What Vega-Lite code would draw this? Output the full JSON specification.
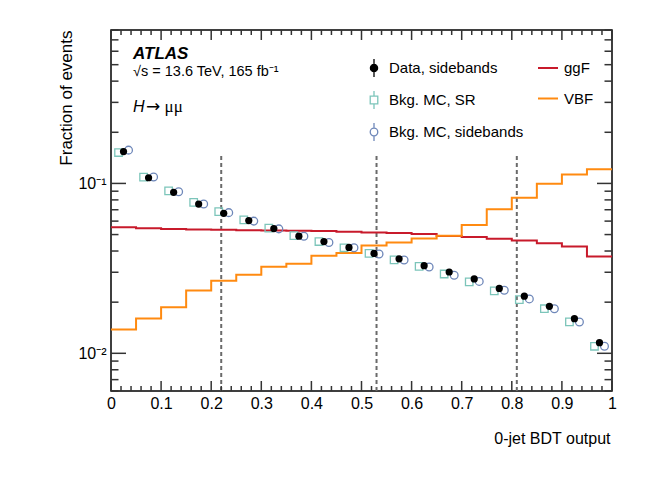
{
  "$schema": "https://vega.github.io/schema/vega-lite/v6.json",
  "width": 501,
  "height": 361,
  "autosize": {"type": "none"},
  "padding": {"left": 111, "top": 30, "right": 52, "bottom": 93},
  "background": "white",
  "config": {
    "font": "Liberation Sans",
    "view": {"stroke": "black", "strokeWidth": 1.5},
    "axis": {
      "grid": false,
      "labelFont": "Liberation Sans",
      "labelFontSize": 16,
      "labelColor": "black",
      "labelFlush": false,
      "titleFont": "Liberation Sans",
      "titleFontSize": 16,
      "titleFontWeight": "normal",
      "titleColor": "black"
    }
  },
  "datasets": {
    "cuts": [{"cut": 0.22}, {"cut": 0.53}, {"cut": 0.81}],
    "xmajor": [{"v": 0}, {"v": 0.1}, {"v": 0.2}, {"v": 0.3}, {"v": 0.4}, {"v": 0.5}, {"v": 0.6}, {"v": 0.7}, {"v": 0.8}, {"v": 0.9}, {"v": 1}],
    "xminor": [{"v": 0.02}, {"v": 0.04}, {"v": 0.06}, {"v": 0.08}, {"v": 0.12}, {"v": 0.14}, {"v": 0.16}, {"v": 0.18}, {"v": 0.22}, {"v": 0.24}, {"v": 0.26}, {"v": 0.28}, {"v": 0.32}, {"v": 0.34}, {"v": 0.36}, {"v": 0.38}, {"v": 0.42}, {"v": 0.44}, {"v": 0.46}, {"v": 0.48}, {"v": 0.52}, {"v": 0.54}, {"v": 0.56}, {"v": 0.58}, {"v": 0.62}, {"v": 0.64}, {"v": 0.66}, {"v": 0.68}, {"v": 0.72}, {"v": 0.74}, {"v": 0.76}, {"v": 0.78}, {"v": 0.82}, {"v": 0.84}, {"v": 0.86}, {"v": 0.88}, {"v": 0.92}, {"v": 0.94}, {"v": 0.96}, {"v": 0.98}],
    "ymajor": [{"v": 0.01}, {"v": 0.1}],
    "yminor": [{"v": 0.006}, {"v": 0.007}, {"v": 0.008}, {"v": 0.009}, {"v": 0.02}, {"v": 0.03}, {"v": 0.04}, {"v": 0.05}, {"v": 0.06}, {"v": 0.07}, {"v": 0.08}, {"v": 0.09}, {"v": 0.2}, {"v": 0.3}, {"v": 0.4}, {"v": 0.5}, {"v": 0.6}, {"v": 0.7}, {"v": 0.8}],
    "hist": [
      {"lo": 0.00, "hi": 0.05, "ggF": 0.0552, "VBF": 0.01382},
      {"lo": 0.05, "hi": 0.10, "ggF": 0.0545, "VBF": 0.01603},
      {"lo": 0.10, "hi": 0.15, "ggF": 0.0540, "VBF": 0.01866},
      {"lo": 0.15, "hi": 0.20, "ggF": 0.0535, "VBF": 0.02339},
      {"lo": 0.20, "hi": 0.25, "ggF": 0.0533, "VBF": 0.02677},
      {"lo": 0.25, "hi": 0.30, "ggF": 0.0531, "VBF": 0.02903},
      {"lo": 0.30, "hi": 0.35, "ggF": 0.0529, "VBF": 0.03234},
      {"lo": 0.35, "hi": 0.40, "ggF": 0.0527, "VBF": 0.03367},
      {"lo": 0.40, "hi": 0.45, "ggF": 0.0524, "VBF": 0.03751},
      {"lo": 0.45, "hi": 0.50, "ggF": 0.0519, "VBF": 0.03890},
      {"lo": 0.50, "hi": 0.55, "ggF": 0.0514, "VBF": 0.04310},
      {"lo": 0.55, "hi": 0.60, "ggF": 0.0510, "VBF": 0.04487},
      {"lo": 0.60, "hi": 0.65, "ggF": 0.0503, "VBF": 0.04736},
      {"lo": 0.65, "hi": 0.70, "ggF": 0.0491, "VBF": 0.04913},
      {"lo": 0.70, "hi": 0.75, "ggF": 0.0483, "VBF": 0.05697},
      {"lo": 0.75, "hi": 0.80, "ggF": 0.0472, "VBF": 0.07044},
      {"lo": 0.80, "hi": 0.85, "ggF": 0.0461, "VBF": 0.08233},
      {"lo": 0.85, "hi": 0.90, "ggF": 0.0445, "VBF": 0.09946},
      {"lo": 0.90, "hi": 0.95, "ggF": 0.0425, "VBF": 0.1129},
      {"lo": 0.95, "hi": 1.00, "ggF": 0.0372, "VBF": 0.1213}
    ],
    "points": [
      {"center": 0.025, "series": "Bkg. MC, SR", "frac": 0.152},
      {"center": 0.075, "series": "Bkg. MC, SR", "frac": 0.109},
      {"center": 0.125, "series": "Bkg. MC, SR", "frac": 0.0905},
      {"center": 0.175, "series": "Bkg. MC, SR", "frac": 0.0774},
      {"center": 0.225, "series": "Bkg. MC, SR", "frac": 0.0682},
      {"center": 0.275, "series": "Bkg. MC, SR", "frac": 0.0610},
      {"center": 0.325, "series": "Bkg. MC, SR", "frac": 0.0545},
      {"center": 0.375, "series": "Bkg. MC, SR", "frac": 0.0493},
      {"center": 0.425, "series": "Bkg. MC, SR", "frac": 0.0455},
      {"center": 0.475, "series": "Bkg. MC, SR", "frac": 0.0418},
      {"center": 0.525, "series": "Bkg. MC, SR", "frac": 0.0387},
      {"center": 0.575, "series": "Bkg. MC, SR", "frac": 0.0355},
      {"center": 0.625, "series": "Bkg. MC, SR", "frac": 0.0325},
      {"center": 0.675, "series": "Bkg. MC, SR", "frac": 0.0293},
      {"center": 0.725, "series": "Bkg. MC, SR", "frac": 0.0263},
      {"center": 0.775, "series": "Bkg. MC, SR", "frac": 0.0233},
      {"center": 0.825, "series": "Bkg. MC, SR", "frac": 0.0207},
      {"center": 0.875, "series": "Bkg. MC, SR", "frac": 0.0183},
      {"center": 0.925, "series": "Bkg. MC, SR", "frac": 0.0153},
      {"center": 0.975, "series": "Bkg. MC, SR", "frac": 0.0110},
      {"center": 0.025, "series": "Bkg. MC, sidebands", "frac": 0.157},
      {"center": 0.075, "series": "Bkg. MC, sidebands", "frac": 0.109},
      {"center": 0.125, "series": "Bkg. MC, sidebands", "frac": 0.0893},
      {"center": 0.175, "series": "Bkg. MC, sidebands", "frac": 0.0756},
      {"center": 0.225, "series": "Bkg. MC, sidebands", "frac": 0.0673},
      {"center": 0.275, "series": "Bkg. MC, sidebands", "frac": 0.0600},
      {"center": 0.325, "series": "Bkg. MC, sidebands", "frac": 0.0540},
      {"center": 0.375, "series": "Bkg. MC, sidebands", "frac": 0.0489},
      {"center": 0.425, "series": "Bkg. MC, sidebands", "frac": 0.0449},
      {"center": 0.475, "series": "Bkg. MC, sidebands", "frac": 0.0418},
      {"center": 0.525, "series": "Bkg. MC, sidebands", "frac": 0.0384},
      {"center": 0.575, "series": "Bkg. MC, sidebands", "frac": 0.0354},
      {"center": 0.625, "series": "Bkg. MC, sidebands", "frac": 0.0322},
      {"center": 0.675, "series": "Bkg. MC, sidebands", "frac": 0.0288},
      {"center": 0.725, "series": "Bkg. MC, sidebands", "frac": 0.0265},
      {"center": 0.775, "series": "Bkg. MC, sidebands", "frac": 0.0235},
      {"center": 0.825, "series": "Bkg. MC, sidebands", "frac": 0.0209},
      {"center": 0.875, "series": "Bkg. MC, sidebands", "frac": 0.0183},
      {"center": 0.925, "series": "Bkg. MC, sidebands", "frac": 0.0153},
      {"center": 0.975, "series": "Bkg. MC, sidebands", "frac": 0.0110},
      {"center": 0.025, "series": "Data, sidebands", "frac": 0.154},
      {"center": 0.075, "series": "Data, sidebands", "frac": 0.108},
      {"center": 0.125, "series": "Data, sidebands", "frac": 0.0886},
      {"center": 0.175, "series": "Data, sidebands", "frac": 0.0756},
      {"center": 0.225, "series": "Data, sidebands", "frac": 0.0667},
      {"center": 0.275, "series": "Data, sidebands", "frac": 0.0604},
      {"center": 0.325, "series": "Data, sidebands", "frac": 0.0542},
      {"center": 0.375, "series": "Data, sidebands", "frac": 0.0489},
      {"center": 0.425, "series": "Data, sidebands", "frac": 0.0455},
      {"center": 0.475, "series": "Data, sidebands", "frac": 0.0420},
      {"center": 0.525, "series": "Data, sidebands", "frac": 0.0387},
      {"center": 0.575, "series": "Data, sidebands", "frac": 0.0360},
      {"center": 0.625, "series": "Data, sidebands", "frac": 0.0328},
      {"center": 0.675, "series": "Data, sidebands", "frac": 0.0301},
      {"center": 0.725, "series": "Data, sidebands", "frac": 0.0274},
      {"center": 0.775, "series": "Data, sidebands", "frac": 0.0241},
      {"center": 0.825, "series": "Data, sidebands", "frac": 0.0217},
      {"center": 0.875, "series": "Data, sidebands", "frac": 0.0189},
      {"center": 0.925, "series": "Data, sidebands", "frac": 0.0160},
      {"center": 0.975, "series": "Data, sidebands", "frac": 0.01155}
    ]
  },
  "layer": [
    {
      "data": {"name": "cuts"},
      "mark": {"type": "rule", "color": "#6a6a6a", "strokeWidth": 2, "strokeDash": [4, 3]},
      "encoding": {
        "x": {
          "field": "cut", "type": "quantitative",
          "scale": {"domain": [0, 1], "nice": false, "zero": false},
          "axis": {
            "orient": "bottom", "values": [0, 0.1, 0.2, 0.3, 0.4, 0.5, 0.6, 0.7, 0.8, 0.9, 1],
            "ticks": false, "domain": false, "labelPadding": 4, "format": "~g", "labelOverlap": false,
            "title": "0-jet BDT output", "titleX": 499, "titleY": 52,
            "titleAlign": "right", "titleBaseline": "alphabetic"
          }
        },
        "y": {
          "datum": 0.006,
          "scale": {"type": "log", "domain": [0.006, 0.8], "nice": false},
          "axis": {
            "orient": "left", "values": [0.01, 0.1],
            "ticks": false, "domain": false, "labelPadding": 5, "labelOverlap": false,
            "labelExpr": "datum.value < 0.05 ? '10⁻²' : '10⁻¹'",
            "title": "Fraction of events", "titleFontSize": 17, "titleX": -40, "titleY": 0,
            "titleAngle": 270, "titleAlign": "right", "titleBaseline": "alphabetic"
          }
        },
        "y2": {"datum": 0.147}
      }
    },
    {
      "data": {"name": "hist"},
      "transform": [
        {"fold": ["ggF", "VBF"], "as": ["process", "frac"]},
        {"fold": ["lo", "hi"], "as": ["edge", "x"]}
      ],
      "mark": {"type": "line", "strokeWidth": 2},
      "encoding": {
        "x": {"field": "x", "type": "quantitative", "scale": {"domain": [0, 1], "nice": false, "zero": false}},
        "y": {"field": "frac", "type": "quantitative", "scale": {"type": "log", "domain": [0.006, 0.8], "nice": false}},
        "color": {
          "field": "process", "type": "nominal",
          "scale": {"domain": ["ggF", "VBF"], "range": ["#c81a2b", "#ff8a10"]},
          "legend": {
            "orient": "none", "legendX": 426, "legendY": 27, "title": null, "padding": 0,
            "symbolType": "stroke", "symbolSize": 400, "symbolStrokeWidth": 2,
            "labelFont": "Liberation Sans", "labelFontSize": 15, "labelColor": "black",
            "labelOffset": 5, "rowPadding": 11.5
          }
        },
        "order": [{"field": "x", "type": "quantitative"}, {"field": "lo", "type": "quantitative"}]
      }
    },
    {
      "data": {"name": "points"},
      "transform": [{"filter": "datum.series === 'Bkg. MC, SR'"}],
      "mark": {"type": "point", "shape": "square", "size": 56, "filled": false, "color": "#7cc5ba", "strokeWidth": 1.3, "opacity": 1, "xOffset": -5},
      "encoding": {
        "x": {"field": "center", "type": "quantitative", "scale": {"domain": [0, 1], "nice": false, "zero": false}},
        "y": {"field": "frac", "type": "quantitative", "scale": {"type": "log", "domain": [0.006, 0.8], "nice": false}}
      }
    },
    {
      "data": {"name": "points"},
      "transform": [{"filter": "datum.series === 'Bkg. MC, sidebands'"}],
      "mark": {"type": "point", "shape": "circle", "size": 60, "filled": false, "color": "#6e87b9", "strokeWidth": 1.3, "opacity": 1, "xOffset": 5},
      "encoding": {
        "x": {"field": "center", "type": "quantitative", "scale": {"domain": [0, 1], "nice": false, "zero": false}},
        "y": {"field": "frac", "type": "quantitative", "scale": {"type": "log", "domain": [0.006, 0.8], "nice": false}}
      }
    },
    {
      "data": {"name": "points"},
      "transform": [{"filter": "datum.series === 'Data, sidebands'"}],
      "mark": {"type": "point", "shape": "circle", "size": 52, "filled": true, "color": "black", "opacity": 1},
      "encoding": {
        "x": {"field": "center", "type": "quantitative", "scale": {"domain": [0, 1], "nice": false, "zero": false}},
        "y": {"field": "frac", "type": "quantitative", "scale": {"type": "log", "domain": [0.006, 0.8], "nice": false}}
      }
    },
    {
      "data": {"name": "points"},
      "transform": [{"filter": "false"}],
      "mark": {"type": "point", "opacity": 1, "strokeWidth": 1.3},
      "encoding": {
        "x": {"field": "center", "type": "quantitative", "scale": {"domain": [0, 1], "nice": false, "zero": false}},
        "y": {"field": "frac", "type": "quantitative", "scale": {"type": "log", "domain": [0.006, 0.8], "nice": false}},
        "shape": {
          "field": "series", "type": "nominal",
          "scale": {
            "domain": ["Data, sidebands", "Bkg. MC, SR", "Bkg. MC, sidebands"],
            "range": [
              "M0,-1V1M-0.4,0A0.4,0.4,0,1,0,0.4,0A0.4,0.4,0,1,0,-0.4,0Z",
              "M0,-1V-0.42M0,0.42V1M-0.42,-0.42H0.42V0.42H-0.42Z",
              "M0,-1V-0.42M0,0.42V1M-0.42,0A0.42,0.42,0,1,0,0.42,0A0.42,0.42,0,1,0,-0.42,0Z"
            ]
          },
          "legend": {
            "orient": "none", "legendX": 253, "legendY": 28, "title": null, "padding": 0,
            "symbolSize": 324, "symbolStrokeWidth": 1.3,
            "labelFont": "Liberation Sans", "labelFontSize": 15, "labelColor": "black",
            "labelOffset": 5, "rowPadding": 8
          }
        },
        "stroke": {
          "field": "series", "type": "nominal",
          "scale": {"domain": ["Data, sidebands", "Bkg. MC, SR", "Bkg. MC, sidebands"], "range": ["black", "#7cc5ba", "#6e87b9"]},
          "legend": {
            "orient": "none", "legendX": 253, "legendY": 28, "title": null, "padding": 0,
            "symbolSize": 324, "symbolStrokeWidth": 1.3,
            "labelFont": "Liberation Sans", "labelFontSize": 15, "labelColor": "black",
            "labelOffset": 5, "rowPadding": 8
          }
        },
        "fill": {
          "field": "series", "type": "nominal",
          "scale": {"domain": ["Data, sidebands", "Bkg. MC, SR", "Bkg. MC, sidebands"], "range": ["black", "transparent", "transparent"]},
          "legend": {
            "orient": "none", "legendX": 253, "legendY": 28, "title": null, "padding": 0,
            "symbolSize": 324, "symbolStrokeWidth": 1.3,
            "labelFont": "Liberation Sans", "labelFontSize": 15, "labelColor": "black",
            "labelOffset": 5, "rowPadding": 8
          }
        }
      }
    },
    {
      "data": {"name": "xmajor"},
      "mark": {"type": "tick", "orient": "vertical", "size": 10, "thickness": 1.5, "color": "#333333", "opacity": 1, "yOffset": -5},
      "encoding": {
        "x": {"field": "v", "type": "quantitative", "scale": {"domain": [0, 1], "nice": false, "zero": false}},
        "y": {"datum": 0.006, "scale": {"type": "log", "domain": [0.006, 0.8], "nice": false}}
      }
    },
    {
      "data": {"name": "xmajor"},
      "mark": {"type": "tick", "orient": "vertical", "size": 10, "thickness": 1.5, "color": "#333333", "opacity": 1, "yOffset": 5},
      "encoding": {
        "x": {"field": "v", "type": "quantitative", "scale": {"domain": [0, 1], "nice": false, "zero": false}},
        "y": {"datum": 0.8, "scale": {"type": "log", "domain": [0.006, 0.8], "nice": false}}
      }
    },
    {
      "data": {"name": "xminor"},
      "mark": {"type": "tick", "orient": "vertical", "size": 5, "thickness": 1.5, "color": "#333333", "opacity": 1, "yOffset": -2.5},
      "encoding": {
        "x": {"field": "v", "type": "quantitative", "scale": {"domain": [0, 1], "nice": false, "zero": false}},
        "y": {"datum": 0.006, "scale": {"type": "log", "domain": [0.006, 0.8], "nice": false}}
      }
    },
    {
      "data": {"name": "xminor"},
      "mark": {"type": "tick", "orient": "vertical", "size": 5, "thickness": 1.5, "color": "#333333", "opacity": 1, "yOffset": 2.5},
      "encoding": {
        "x": {"field": "v", "type": "quantitative", "scale": {"domain": [0, 1], "nice": false, "zero": false}},
        "y": {"datum": 0.8, "scale": {"type": "log", "domain": [0.006, 0.8], "nice": false}}
      }
    },
    {
      "data": {"name": "ymajor"},
      "mark": {"type": "tick", "orient": "horizontal", "size": 15, "thickness": 1.5, "color": "#333333", "opacity": 1, "xOffset": 7.5},
      "encoding": {
        "x": {"datum": 0, "scale": {"domain": [0, 1], "nice": false, "zero": false}},
        "y": {"field": "v", "type": "quantitative", "scale": {"type": "log", "domain": [0.006, 0.8], "nice": false}}
      }
    },
    {
      "data": {"name": "ymajor"},
      "mark": {"type": "tick", "orient": "horizontal", "size": 15, "thickness": 1.5, "color": "#333333", "opacity": 1, "xOffset": -7.5},
      "encoding": {
        "x": {"datum": 1, "scale": {"domain": [0, 1], "nice": false, "zero": false}},
        "y": {"field": "v", "type": "quantitative", "scale": {"type": "log", "domain": [0.006, 0.8], "nice": false}}
      }
    },
    {
      "data": {"name": "yminor"},
      "mark": {"type": "tick", "orient": "horizontal", "size": 7.5, "thickness": 1.5, "color": "#333333", "opacity": 1, "xOffset": 3.75},
      "encoding": {
        "x": {"datum": 0, "scale": {"domain": [0, 1], "nice": false, "zero": false}},
        "y": {"field": "v", "type": "quantitative", "scale": {"type": "log", "domain": [0.006, 0.8], "nice": false}}
      }
    },
    {
      "data": {"name": "yminor"},
      "mark": {"type": "tick", "orient": "horizontal", "size": 7.5, "thickness": 1.5, "color": "#333333", "opacity": 1, "xOffset": -3.75},
      "encoding": {
        "x": {"datum": 1, "scale": {"domain": [0, 1], "nice": false, "zero": false}},
        "y": {"field": "v", "type": "quantitative", "scale": {"type": "log", "domain": [0.006, 0.8], "nice": false}}
      }
    },
    {
      "data": {"values": [{"t": "ATLAS"}]},
      "mark": {"type": "text", "font": "Liberation Sans", "fontSize": 17, "fontWeight": "bold", "fontStyle": "italic", "align": "left", "baseline": "alphabetic", "color": "black"},
      "encoding": {
        "x": {"datum": 0.044, "scale": {"domain": [0, 1], "nice": false, "zero": false}},
        "y": {"datum": 0.54, "scale": {"type": "log", "domain": [0.006, 0.8], "nice": false}},
        "text": {"field": "t"}
      }
    },
    {
      "data": {"values": [{"t": "√s = 13.6 TeV, 165 fb⁻¹"}]},
      "mark": {"type": "text", "font": "Liberation Sans", "fontSize": 14.5, "align": "left", "baseline": "alphabetic", "color": "black"},
      "encoding": {
        "x": {"datum": 0.044, "scale": {"domain": [0, 1], "nice": false, "zero": false}},
        "y": {"datum": 0.431, "scale": {"type": "log", "domain": [0.006, 0.8], "nice": false}},
        "text": {"field": "t"}
      }
    },
    {
      "data": {"values": [{"t": "H"}]},
      "mark": {"type": "text", "font": "Liberation Sans", "fontSize": 16, "fontStyle": "italic", "align": "left", "baseline": "alphabetic", "color": "black"},
      "encoding": {
        "x": {"datum": 0.044, "scale": {"domain": [0, 1], "nice": false, "zero": false}},
        "y": {"datum": 0.265, "scale": {"type": "log", "domain": [0.006, 0.8], "nice": false}},
        "text": {"field": "t"}
      }
    },
    {
      "data": {"values": [{"t": "→"}]},
      "mark": {"type": "text", "font": "DejaVu Sans", "fontSize": 17, "align": "left", "baseline": "alphabetic", "color": "black"},
      "encoding": {
        "x": {"datum": 0.07, "scale": {"domain": [0, 1], "nice": false, "zero": false}},
        "y": {"datum": 0.265, "scale": {"type": "log", "domain": [0.006, 0.8], "nice": false}},
        "text": {"field": "t"}
      }
    },
    {
      "data": {"values": [{"t": "μμ"}]},
      "mark": {"type": "text", "font": "Liberation Serif", "fontSize": 17, "align": "left", "baseline": "alphabetic", "color": "black"},
      "encoding": {
        "x": {"datum": 0.107, "scale": {"domain": [0, 1], "nice": false, "zero": false}},
        "y": {"datum": 0.265, "scale": {"type": "log", "domain": [0.006, 0.8], "nice": false}},
        "text": {"field": "t"}
      }
    }
  ]
}
